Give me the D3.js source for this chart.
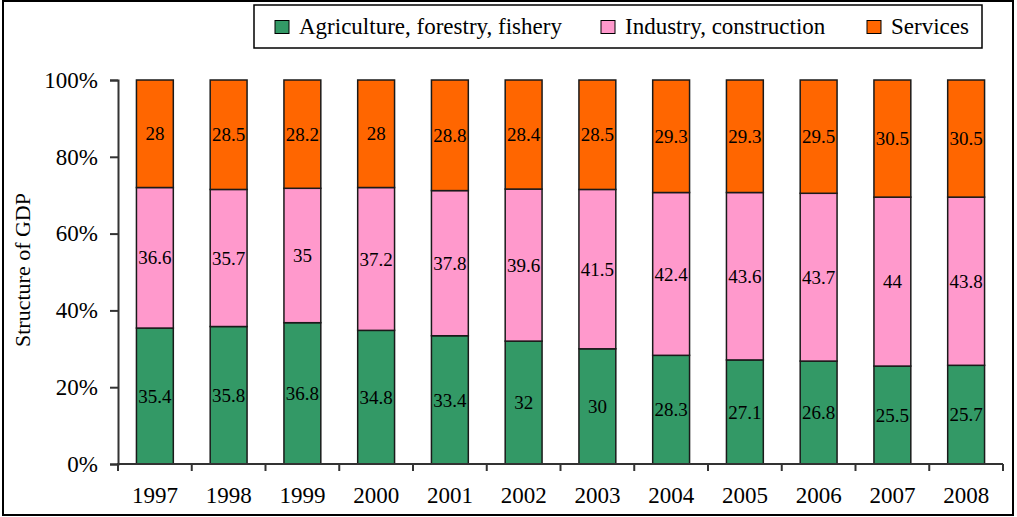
<!DOCTYPE html>
<html>
<head>
<meta charset="utf-8">
<script src="https://cdn.jsdelivr.net/npm/d3@7"></script>
<style>
  html, body { margin: 0; padding: 0; background: #fff; }
  svg { display: block; }
</style>
</head>
<body>
<svg id="chart" width="1017" height="517"></svg>
<script>
// GDP structure by sector, percent of total
const years = ["1997","1998","1999","2000","2001","2002","2003","2004","2005","2006","2007","2008"];
const agriculture = [35.4, 35.8, 36.8, 34.8, 33.4, 32, 30, 28.3, 27.1, 26.8, 25.5, 25.7];
const industry = [36.6, 35.7, 35, 37.2, 37.8, 39.6, 41.5, 42.4, 43.6, 43.7, 44, 43.8];
const services = [28, 28.5, 28.2, 28, 28.8, 28.4, 28.5, 29.3, 29.3, 29.5, 30.5, 30.5];
const seriesNames = ["Agriculture, forestry, fishery", "Industry, construction", "Services"];
const seriesColors = ["#339966", "#FF99CC", "#FF6600"];
const yTicks = [0, 20, 40, 60, 80, 100];

const FONT = '"Liberation Serif"';
const svg = d3.select("#chart");
const plot = { left: 118, right: 1003, top: 80, bottom: 464 };

// outer frame
svg.append("rect").attr("x", 3).attr("y", 1).attr("width", 1010).attr("height", 514)
  .attr("fill", "none").attr("stroke", "#000").attr("stroke-width", 2);

const table = years.map((y, i) => ({ year: y, a: agriculture[i], b: industry[i], c: services[i] }));
const stack = d3.stack().keys(["a", "b", "c"]).offset(d3.stackOffsetExpand);
const layers = stack(table);

const x = d3.scaleBand().domain(years).range([plot.left, plot.right]).paddingInner(0.5).paddingOuter(0.25);
const xAxisBand = d3.scaleBand().domain(years).range([plot.left, plot.right]);
const y = d3.scaleLinear().domain([0, 1]).range([plot.bottom, plot.top]);

// bars with value labels
const g = svg.append("g");
layers.forEach((layer, si) => {
  const lg = g.append("g");
  lg.selectAll("rect").data(layer).enter().append("rect")
    .attr("x", d => x(d.data.year))
    .attr("width", x.bandwidth())
    .attr("y", d => y(d[1]))
    .attr("height", d => y(d[0]) - y(d[1]))
    .attr("fill", seriesColors[si])
    .attr("stroke", "#1a1a1a").attr("stroke-width", 1.5);
  const vals = [agriculture, industry, services][si];
  lg.selectAll("text").data(layer).enter().append("text")
    .attr("x", d => x(d.data.year) + x.bandwidth() / 2)
    .attr("y", d => (y(d[0]) + y(d[1])) / 2)
    .attr("dy", "0.35em")
    .attr("text-anchor", "middle")
    .style("font-family", FONT)
    .style("font-size", "19px")
    .attr("fill", "#000")
    .text((d, i) => vals[i]);
});

// y axis
const yAxis = d3.axisLeft(d3.scaleLinear().domain([0, 100]).range([plot.bottom, plot.top]))
  .tickValues(yTicks).tickFormat(d => d + "%").tickSize(8).tickPadding(12);
const ya = svg.append("g").attr("transform", `translate(${plot.left},0)`).call(yAxis);
ya.attr("font-family", null);
ya.select(".domain").attr("stroke", "#333").attr("stroke-width", 2);
ya.selectAll(".tick line").attr("stroke", "#333").attr("stroke-width", 2);
ya.selectAll(".tick text").style("font-size", "23px").style("font-family", FONT).attr("fill", "#000");

// x axis with ticks between categories
const xa = svg.append("g").attr("transform", `translate(0,${plot.bottom})`);
xa.append("line").attr("x1", plot.left - 1).attr("x2", plot.right).attr("y1", 0).attr("y2", 0)
  .attr("stroke", "#333").attr("stroke-width", 2);
const bounds = years.map(yv => xAxisBand(yv)).concat([plot.right]);
xa.selectAll("line.tk").data(bounds).enter().append("line").attr("class", "tk")
  .attr("x1", d => d).attr("x2", d => d).attr("y1", 0).attr("y2", 7)
  .attr("stroke", "#333").attr("stroke-width", 2);
xa.selectAll("text").data(years).enter().append("text")
  .attr("x", d => xAxisBand(d) + xAxisBand.bandwidth() / 2)
  .attr("y", 39).attr("text-anchor", "middle")
  .style("font-size", "23px").style("font-family", FONT).attr("fill", "#000")
  .text(d => d);

// y axis title
svg.append("text").attr("transform", "translate(30,270) rotate(-90)")
  .attr("text-anchor", "middle").style("font-size", "22px").style("font-family", FONT)
  .attr("fill", "#000").text("Structure of GDP");

// legend
const leg = svg.append("g");
leg.append("rect").attr("x", 254).attr("y", 5).attr("width", 728).attr("height", 43)
  .attr("fill", "#fff").attr("stroke", "#000").attr("stroke-width", 1.5);
const legX = [275, 601, 867];
seriesNames.forEach((n, i) => {
  leg.append("rect").attr("x", legX[i]).attr("y", 20.5).attr("width", 14).attr("height", 13)
    .attr("fill", seriesColors[i]).attr("stroke", "#000").attr("stroke-width", 1);
  leg.append("text").attr("x", legX[i] + 24).attr("y", 34)
    .style("font-size", "23px").style("font-family", FONT)
    .attr("fill", "#000").text(n);
});
</script>
</body>
</html>
